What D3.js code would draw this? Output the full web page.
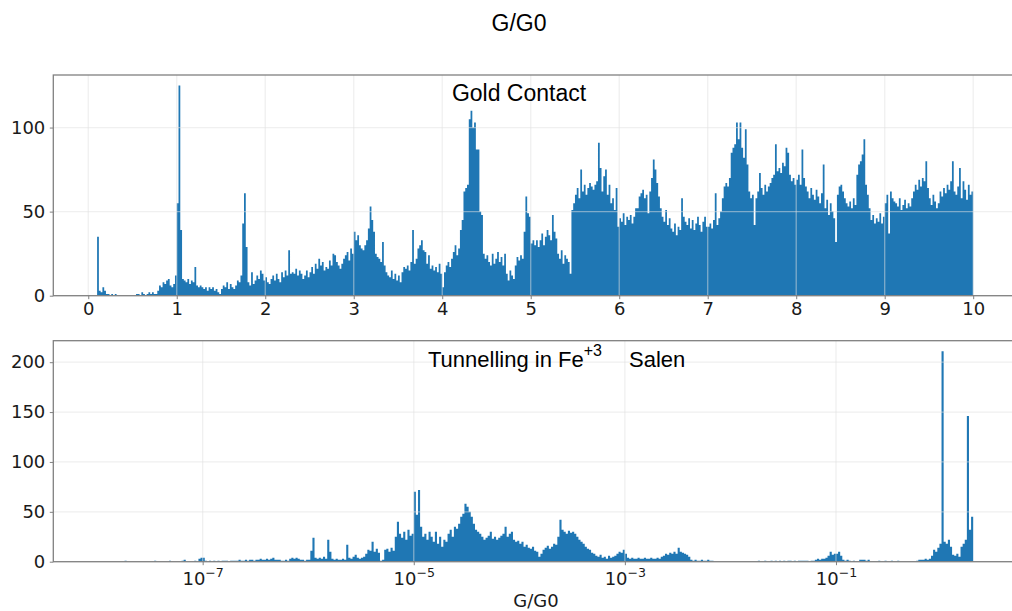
<!DOCTYPE html>
<html>
<head>
<meta charset="utf-8">
<script src="https://cdn.jsdelivr.net/npm/d3@7"></script>
<style>
  body { margin: 0; background: #fff; overflow: hidden; }
  svg { display: block; }
</style>
</head>
<body>
<svg id="fig" width="1012" height="611"></svg>
<script>
// ---- Gold contact: linear bins of 0.02 G0 from 0.1 to 10 ----
const goldStart = 0.1;
const goldBinWidth = 0.02;
const goldCounts = [
  35,3,2,5,3,   1,1,0,1,0,   1,0,0,0,0,   0,0,0,0,0,   0,0,1,1,0,
  2,1,0,1,2,    1,2,1,1,3,   6,5,8,7,9,   10,6,5,7,12, 55,125,39,10,9,
  8,10,7,9,8,   17,6,5,6,5,  4,5,3,5,4,   5,3,4,2,1,   4,6,5,8,4,
  7,5,4,6,9,    8,12,43,61,29, 8,6,14,7,9, 12,10,15,13,9, 11,8,7,10,12,
  9,13,10,8,14, 11,15,12,27,13, 14,13,16,12,15, 13,10,12,15,11, 14,17,13,19,16,
  22,18,20,15,17, 16,21,18,25,24, 20,18,16,19,22, 24,26,21,28,25, 38,33,36,30,28,
  27,30,33,40,53, 45,38,25,23,22, 20,32,18,14,12, 11,15,10,13,9, 12,8,14,17,16,
  18,15,20,39,19, 22,28,30,33,27, 26,19,24,16,18, 15,17,14,19,13, 5,14,18,20,17,
  22,26,30,24,28, 39,45,62,64,66, 105,110,100,103,87, 87,50,48,25,22, 24,20,18,25,19,
  22,26,20,23,18, 25,13,9,15,12, 10,18,23,21,24, 22,38,59,49,47, 31,33,30,33,29,
  33,37,30,35,39, 36,33,48,38,34, 25,22,27,19,24, 22,20,13,51,55, 60,64,58,75,62,
  66,60,64,67,65, 63,66,68,91,76, 62,71,75,60,66, 55,58,51,64,41, 46,44,49,42,47,
  45,48,43,47,52, 52,59,61,63,58, 60,49,62,70,81, 75,67,59,52,47, 44,51,42,46,40,
  38,43,36,41,39, 58,47,44,42,46, 40,45,39,43,47, 42,38,44,47,41, 41,43,40,45,61,
  42,46,50,58,65, 67,65,70,85,88, 90,103,93,103,88, 82,99,78,62,58, 60,42,58,62,73,
  64,60,66,62,65, 67,70,72,90,74, 76,73,79,77,88, 85,72,68,70,66, 69,72,66,87,70,
  65,62,58,64,60, 57,63,59,55,61, 78,52,57,48,55, 50,46,32,60,65, 66,62,58,55,53,
  56,52,58,54,72, 78,80,84,93,66, 60,52,45,48,43, 46,44,49,43,47, 55,60,37,62,58,
  56,55,53,58,51, 54,57,52,55,53, 58,62,66,63,69, 65,70,68,80,64, 58,54,60,56,52,
  55,62,59,64,61, 66,63,68,80,62, 60,65,76,58,68, 63,57,66,60,62
];
const goldXTicks = [0, 1, 2, 3, 4, 5, 6, 7, 8, 9, 10];
const goldYTicks = [0, 50, 100];

// ---- Tunnelling in Fe(III) salen: log-spaced bins, 0.02 decade from 1e-8 ----
const salenLogStart = -8;
const salenLogBinWidth = 0.02;
const salenCounts = [
  0,0,0,0,0,  0,0,0,0,0,  0,0,0,1,0,  0,0,0,0,0,  0,0,0,0,0,
  0,0,1,0,0,  0,0,0,0,1,  0,0,0,0,0,  1,2,0,0,0,  0,1,0,3,4,
  4,1,0,1,0,  1,0,1,0,1,  1,1,0,1,1,  1,1,2,1,1,  2,1,2,2,1,
  2,2,3,2,2,  3,2,3,4,2,  2,2,1,1,2,  1,3,4,3,4,  3,2,2,1,2,
  2,11,24,4,3, 4,3,5,3,22, 10,3,2,3,2, 2,3,2,17,4, 3,5,7,4,3,
  4,5,8,12,11, 20,10,13,9,1, 2,12,13,10,14, 11,25,40,28,24, 30,22,32,26,28,
  70,47,72,35,25, 28,22,30,25,20, 30,18,25,15,22, 20,28,32,25,35, 33,38,45,48,58,
  55,50,45,38,32, 30,28,25,22,24, 26,30,23,25,22, 24,26,28,35,25, 28,30,22,20,21,
  18,20,15,17,14, 13,15,11,10,5, 8,12,14,16,13, 15,18,17,25,42, 32,30,28,31,29,
  30,28,25,22,20, 18,15,13,12,9, 8,6,5,7,4, 5,3,6,4,5, 6,8,10,9,12,
  8,4,3,4,3,  3,4,3,3,4,  3,3,4,3,3,  4,3,5,6,8,  7,9,8,10,8,
  14,10,9,8,7, 5,2,1,2,1, 1,2,1,1,2, 1,1,0,0,0, 0,0,0,0,0,
  0,0,0,0,0,  0,0,0,0,0,  0,0,0,1,0,  0,1,0,0,1,  0,1,0,1,0,
  1,0,1,1,0,  1,0,1,1,1,  1,1,0,1,1,  2,3,2,3,3,  4,6,10,7,8,
  8,10,6,2,1, 2,1,0,1,0,  0,2,2,2,1,  2,0,0,0,0,  1,0,0,1,0,
  0,1,0,0,1,  0,0,0,0,0,  0,0,0,1,2,  2,2,3,2,3,  6,12,10,14,18,
  211,20,18,22,15, 7,6,8,5,15, 18,22,146,32,45
];
const salenXTicks = [1e-7, 1e-5, 1e-3, 1e-1];
const salenXTickExponents = ["\u22127", "\u22125", "\u22123", "\u22121"];
const salenYTicks = [0, 50, 100, 150, 200];

const barColor = "#1f77b4";
const spineColor = "#808080";
const textColor = "#1a1a1a";

const svg = d3.select("#fig");

// Axes boxes (pixels)
const left = 53.3, right = 1017;
const topBox = { top: 75, bottom: 295.7 };
const botBox = { top: 340.7, bottom: 561.7 };

// Histogram drawn as one filled step outline over the bin edges
function histPath(g, counts, edgeAt, xs, ys) {
  const pts = counts.map((c, i) => ({ x: xs(edgeAt(i)), y: ys(c) }));
  pts.push({ x: xs(edgeAt(counts.length)), y: ys(counts[counts.length - 1]) });
  const area = d3.area()
    .x(d => d.x).y0(ys(0)).y1(d => d.y)
    .curve(d3.curveStepAfter);
  g.append("path").attr("d", area(pts)).attr("fill", barColor);
}

// ---------- Top panel ----------
const goldEnd = goldStart + goldBinWidth * goldCounts.length;
const goldPad = 0.05 * (goldEnd - goldStart);
const xGold = d3.scaleLinear()
  .domain([goldStart - goldPad, goldEnd + goldPad])
  .range([left, right]);
const yGold = d3.scaleLinear()
  .domain([0, d3.max(goldCounts) * 1.05])
  .range([topBox.bottom, topBox.top]);

const gTop = svg.append("g");
histPath(gTop, goldCounts, i => goldStart + i * goldBinWidth, xGold, yGold);

// ---------- Bottom panel ----------
const salenLogEnd = salenLogStart + salenLogBinWidth * salenCounts.length;
const salenPad = 0.05 * (salenLogEnd - salenLogStart);
const xSalen = d3.scaleLog()
  .domain([Math.pow(10, salenLogStart - salenPad), Math.pow(10, salenLogEnd + salenPad)])
  .range([left, right]);
const ySalen = d3.scaleLinear()
  .domain([0, d3.max(salenCounts) * 1.05])
  .range([botBox.bottom, botBox.top]);

const gBot = svg.append("g");
histPath(gBot, salenCounts, i => Math.pow(10, salenLogStart + i * salenLogBinWidth), xSalen, ySalen);

// ---------- Grid (drawn over the bars, translucent) ----------
function grid(g, xs, xv, ys, yv, box) {
  const gg = g.append("g").attr("stroke", "#e2e2e2").attr("stroke-opacity", 0.5).attr("stroke-width", 1.3);
  xv.forEach(v => gg.append("line")
    .attr("x1", xs(v)).attr("x2", xs(v)).attr("y1", box.top).attr("y2", box.bottom));
  yv.forEach(v => gg.append("line")
    .attr("x1", left).attr("x2", right).attr("y1", ys(v)).attr("y2", ys(v)));
}
grid(gTop, xGold, goldXTicks, yGold, goldYTicks, topBox);
grid(gBot, xSalen, salenXTicks, ySalen, salenYTicks, botBox);

// ---------- Frames ----------
function frame(g, box) {
  g.append("rect")
    .attr("x", left).attr("y", box.top)
    .attr("width", right - left).attr("height", box.bottom - box.top)
    .attr("fill", "none").attr("stroke", spineColor).attr("stroke-width", 1.3);
}
frame(gTop, topBox);
frame(gBot, botBox);

// ---------- Axes ----------
function styleAxis(sel) {
  sel.select(".domain").remove();
  sel.selectAll(".tick line").attr("stroke", spineColor).attr("stroke-width", 1);
  sel.selectAll(".tick text")
    .attr("fill", textColor)
    .style("font-family", "'DejaVu Sans', sans-serif")
    .style("font-size", "18px");
}

gTop.append("g")
  .attr("transform", `translate(0,${topBox.bottom})`)
  .call(d3.axisBottom(xGold).tickValues(goldXTicks).tickSize(3.5).tickPadding(3.5).tickFormat(d3.format("d")))
  .call(styleAxis);
gTop.append("g")
  .attr("transform", `translate(${left},0)`)
  .call(d3.axisLeft(yGold).tickValues(goldYTicks).tickSize(3.5).tickPadding(4.5).tickFormat(d3.format("d")))
  .call(styleAxis);

const xAxisBot = gBot.append("g")
  .attr("transform", `translate(0,${botBox.bottom})`)
  .call(d3.axisBottom(xSalen).tickValues(salenXTicks).tickSize(3.5).tickFormat(() => ""))
  .call(styleAxis);
xAxisBot.selectAll(".tick").each(function (d, i) {
  const t = d3.select(this).select("text")
    .attr("y", 23.5).attr("dy", null)
    .attr("text-anchor", "middle");
  t.append("tspan").text("10");
  t.append("tspan").attr("dy", -8).style("font-size", "12.6px").text(salenXTickExponents[i]);
});
gBot.append("g")
  .attr("transform", `translate(${left},0)`)
  .call(d3.axisLeft(ySalen).tickValues(salenYTicks).tickSize(3.5).tickPadding(4.5).tickFormat(d3.format("d")))
  .call(styleAxis);

// ---------- Titles and labels ----------
const titleFont = "'Liberation Sans', Arial, sans-serif";
svg.append("text")
  .attr("x", 519).attr("y", 30.7)
  .attr("text-anchor", "middle")
  .style("font-family", titleFont).style("font-size", "23px")
  .attr("fill", "#000")
  .text("G/G0");

svg.append("text")
  .attr("x", 519).attr("y", 100.7)
  .attr("text-anchor", "middle")
  .style("font-family", titleFont).style("font-size", "23px")
  .attr("fill", "#000")
  .text("Gold Contact");

const subTitle = svg.append("text")
  .attr("x", 428).attr("y", 366.7)
  .style("font-family", titleFont).style("font-size", "22px")
  .attr("fill", "#000");
subTitle.append("tspan").text("Tunnelling in Fe");
subTitle.append("tspan").attr("dy", -11).style("font-size", "16px").text("+3");
subTitle.append("tspan").attr("dy", 11).attr("dx", 27).text("Salen");

svg.append("text")
  .attr("x", 536).attr("y", 606.5)
  .attr("text-anchor", "middle")
  .style("font-family", "'DejaVu Sans', sans-serif").style("font-size", "18px")
  .attr("fill", textColor)
  .text("G/G0");
</script>
</body>
</html>
